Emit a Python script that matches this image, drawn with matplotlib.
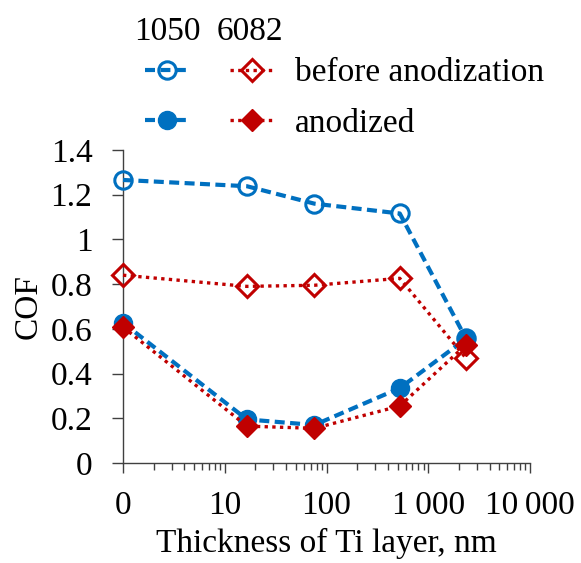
import matplotlib
matplotlib.use("Agg")
import matplotlib.pyplot as plt
from matplotlib.ticker import FixedLocator, NullFormatter

plt.rcParams['font.family'] = ['Liberation Serif', 'DejaVu Serif']

thickness = [1, 16.5, 76, 525, 2340]
tick_vals = [1, 10, 100, 1000, 10000]
tick_labels = ['0', '10', '100', '1\u2009000', '10\u2009000']

cof_1050_before = [1.266, 1.238, 1.160, 1.116, 0.558]
cof_6082_before = [0.840, 0.790, 0.795, 0.826, 0.470]
cof_1050_anod = [0.627, 0.195, 0.170, 0.335, 0.555]
cof_6082_anod = [0.608, 0.165, 0.155, 0.255, 0.528]

blue = '#0070C0'
red = '#C00000'
fs = 24

fig = plt.figure(figsize=(5.81, 5.63), dpi=100)
ax = fig.add_axes([123/581, 1-463/563, (530-123)/581, (463-150)/563])

dash = (0, (2.4, 1.3))
dot = (0, (1.0, 1.3))
l1, = ax.plot(thickness, cof_1050_before, color=blue, lw=3.0, linestyle=dash,
              marker='o', ms=12.5, mfc='none', mec=blue, mew=2.2, clip_on=False, zorder=3)
l2, = ax.plot(thickness, cof_6082_before, color=red, lw=2.4, linestyle=dot,
              marker='D', ms=11, mfc='none', mec=red, mew=2.2, clip_on=False, zorder=4)
l3, = ax.plot(thickness, cof_1050_anod, color=blue, lw=3.0, linestyle=dash,
              marker='o', ms=13, mfc=blue, mec=blue, clip_on=False, zorder=5)
l4, = ax.plot(thickness, cof_6082_anod, color=red, lw=2.4, linestyle=dot,
              marker='D', ms=11.5, mfc=red, mec=red, clip_on=False, zorder=6)

ax.set_xscale('log')
ax.set_xlim(1, 10000)
ax.set_ylim(0, 1.4)
ax.set_yticks([0, 0.2, 0.4, 0.6, 0.8, 1.0, 1.2, 1.4])
ax.set_yticklabels(['0', '0.2', '0.4', '0.6', '0.8', '1', '1.2', '1.4'])
ax.xaxis.set_major_locator(FixedLocator(tick_vals))
ax.set_xticklabels(tick_labels)
minor = [m * d for d in tick_vals[:-1] for m in range(2, 10)]
ax.xaxis.set_minor_locator(FixedLocator(minor))
ax.xaxis.set_minor_formatter(NullFormatter())

for s in ['top', 'right']:
    ax.spines[s].set_visible(False)
for s in ['left', 'bottom']:
    ax.spines[s].set_color('#404040')
    ax.spines[s].set_linewidth(1.0)

ax.tick_params(axis='both', which='major', labelsize=fs, color='#404040', width=1.0, direction='out')
ax.tick_params(axis='y', length=8, pad=14)
ax.tick_params(axis='x', which='major', length=7, pad=13)
ax.tick_params(axis='x', which='minor', length=5, width=1.0, color='#404040', direction='out')

ax.set_xlabel('Thickness of Ti layer, nm', fontsize=fs, labelpad=5)
ax.set_ylabel('COF', fontsize=fs, labelpad=5)

leg = fig.legend([l1, l3, l2, l4], ['', '', 'before anodization', 'anodized'],
                 ncol=2, loc='upper left', bbox_to_anchor=(145/581, 1-58/563),
                 frameon=False, fontsize=fs, handlelength=1.3, handletextpad=0.65,
                 columnspacing=0.6, labelspacing=0.6, borderpad=0, borderaxespad=0)

fig.text(167/581, 1-32/563, '1050', fontsize=fs, ha='center', va='center')
fig.text(250/581, 1-32/563, '6082', fontsize=fs, ha='center', va='center')

fig.savefig('out.png', dpi=100)
